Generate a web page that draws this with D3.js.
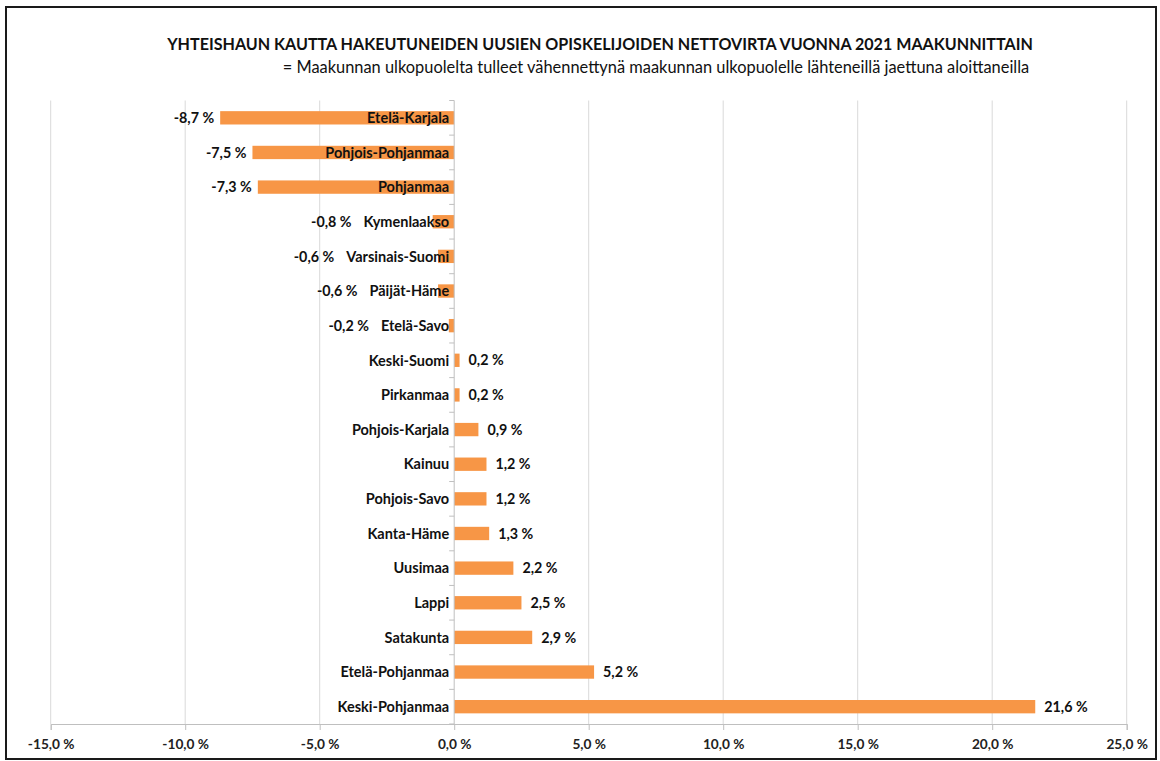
<!DOCTYPE html>
<html><head><meta charset="utf-8">
<script src="https://cdn.jsdelivr.net/npm/d3@7"></script>
<style>body{margin:0;background:#fff}svg{display:block}text{font-family:Lato,"Open Sans",sans-serif}</style>
</head><body>
<svg id="c" width="1160" height="761"></svg>
<script>
const title = "YHTEISHAUN KAUTTA HAKEUTUNEIDEN UUSIEN OPISKELIJOIDEN NETTOVIRTA VUONNA 2021 MAAKUNNITTAIN";
const subtitle = "= Maakunnan ulkopuolelta tulleet vähennettynä maakunnan ulkopuolelle lähteneillä jaettuna aloittaneilla";
const categories = ["Etelä-Karjala","Pohjois-Pohjanmaa","Pohjanmaa","Kymenlaakso","Varsinais-Suomi","Päijät-Häme","Etelä-Savo","Keski-Suomi","Pirkanmaa","Pohjois-Karjala","Kainuu","Pohjois-Savo","Kanta-Häme","Uusimaa","Lappi","Satakunta","Etelä-Pohjanmaa","Keski-Pohjanmaa"];
const values = [-8.7,-7.5,-7.3,-0.8,-0.6,-0.6,-0.2,0.2,0.2,0.9,1.2,1.2,1.3,2.2,2.5,2.9,5.2,21.6];
const xTicks = [-15,-10,-5,0,5,10,15,20,25];
const xDomain = [-15,25];

const loc = d3.formatLocale({decimal:",",thousands:"\u00a0",grouping:[3],currency:["","€"],minus:"-"});
const fmt = v => loc.format(".1f")(v) + " %";

const svg = d3.select("#c");
const pLeft = 50.7, pRight = 1126.7, pTop = 100.5, pBottom = 724;
const x = d3.scaleLinear().domain(xDomain).range([pLeft, pRight]);
const y = d3.scaleBand().domain(categories).range([pTop, pBottom]).paddingInner(0.615).paddingOuter(0.3075);

// border
svg.append("rect").attr("x",6).attr("y",7).attr("width",1150).attr("height",752)
  .attr("fill","none").attr("stroke","#1a1a1a").attr("stroke-width",2);

// title
svg.append("text").attr("x",600).attr("y",50).attr("text-anchor","middle")
  .attr("font-size",16.1).attr("font-weight","bold").attr("fill","#111").text(title);
svg.append("text").attr("x",656).attr("y",73).attr("text-anchor","middle")
  .attr("font-size",16.4).attr("fill","#111").text(subtitle);

// gridlines
svg.append("g").selectAll("line").data(xTicks.filter(t=>t!==0)).join("line")
  .attr("x1",d=>x(d)).attr("x2",d=>x(d)).attr("y1",pTop).attr("y2",pBottom)
  .attr("stroke","#d9d9d9").attr("stroke-width",1);

// bottom axis
const ax = svg.append("g").attr("transform",`translate(0,${pBottom})`)
  .call(d3.axisBottom(x).tickValues(xTicks).tickFormat(fmt).tickSize(6).tickPadding(9));
ax.select(".domain").attr("stroke","#bfbfbf");
ax.selectAll(".tick line").attr("stroke","#bfbfbf");
ax.selectAll(".tick text").attr("font-size",13.7).attr("font-weight","bold").attr("fill","#222")
  .attr("font-family","Lato, sans-serif");

// bars
svg.append("g").selectAll("rect").data(categories).join("rect")
  .attr("x",(d,i)=>x(Math.min(0,values[i])))
  .attr("width",(d,i)=>Math.abs(x(values[i])-x(0)))
  .attr("y",d=>y(d)).attr("height",y.bandwidth())
  .attr("fill","#f79646");

// zero axis with category ticks
svg.append("line").attr("x1",x(0)).attr("x2",x(0)).attr("y1",pTop).attr("y2",pBottom)
  .attr("stroke","#bfbfbf");
svg.append("g").selectAll("line").data(d3.range(categories.length+1)).join("line")
  .attr("x1",x(0)-5).attr("x2",x(0))
  .attr("y1",i=>pTop+i*(pBottom-pTop)/categories.length).attr("y2",i=>pTop+i*(pBottom-pTop)/categories.length)
  .attr("stroke","#bfbfbf");

// category labels
const catLabels = svg.append("g").selectAll("text").data(categories).join("text")
  .attr("x",x(0)-5).attr("y",d=>y(d)+y.bandwidth()/2).attr("dy","0.36em")
  .attr("text-anchor","end").attr("font-size",14.5).attr("font-weight","bold").attr("fill","#111")
  .text(d=>d);
const starts = [];
catLabels.each(function(d,i){ starts[i] = x(0)-5-this.getComputedTextLength(); });

// value labels
svg.append("g").selectAll("text").data(categories).join("text")
  .attr("x",(d,i)=> values[i] < 0 ? Math.min(x(values[i])-6, starts[i]-12) : x(values[i])+9)
  .attr("y",d=>y(d)+y.bandwidth()/2).attr("dy","0.36em")
  .attr("text-anchor",(d,i)=> values[i] < 0 ? "end" : "start")
  .attr("font-size",14.3).attr("font-weight","bold").attr("fill","#111")
  .text((d,i)=>fmt(values[i]));
</script>
</body></html>
